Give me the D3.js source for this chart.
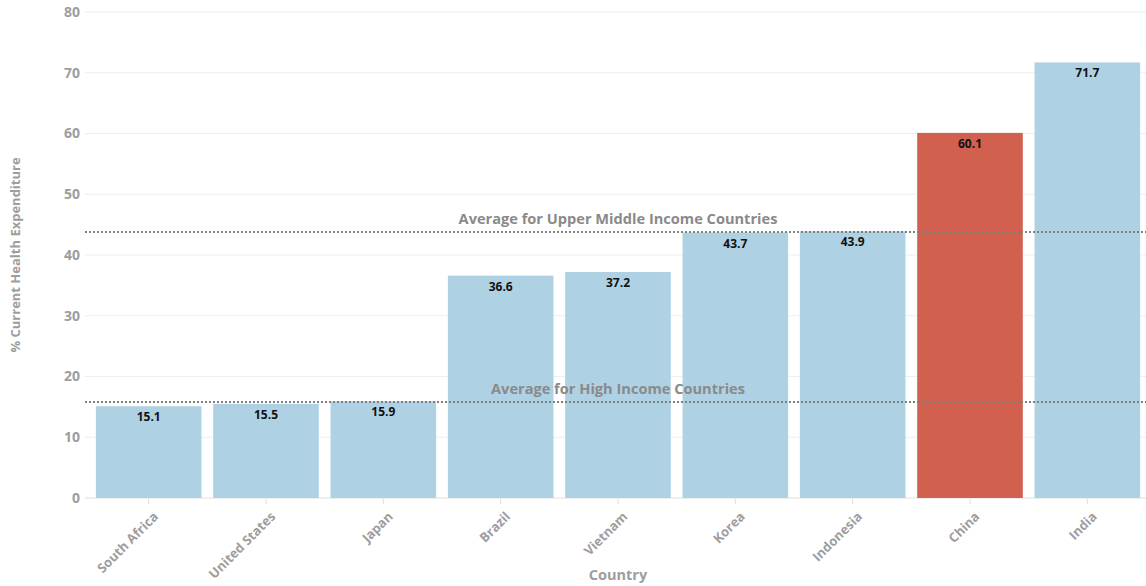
<!DOCTYPE html>
<html><head><meta charset="utf-8">
<script src="https://cdn.jsdelivr.net/npm/d3@7"></script>
<style>body{margin:0;background:#fff;} text{font-family:"Open Sans",sans-serif;}</style>
</head><body>
<svg id="chart" width="1146" height="586"></svg>
<script>
const countries = ["South Africa","United States","Japan","Brazil","Vietnam","Korea","Indonesia","China","India"];
const values = [15.1,15.5,15.9,36.6,37.2,43.7,43.9,60.1,71.7];
const highlight = ["China"];
const yTicks = [0,10,20,30,40,50,60,70,80];
const refLines = [
  {label:"Average for Upper Middle Income Countries", value:43.8},
  {label:"Average for High Income Countries", value:15.8}
];

const svg = d3.select("#chart");
const y = d3.scaleLinear().domain([0,80]).range([498,12]);
const x = d3.scaleBand().domain(countries).range([90,1146]).paddingInner(0.1).paddingOuter(0.05);
const gridX0 = 85, gridX1 = 1146;

// grid
svg.append("g").selectAll("line").data(yTicks).join("line")
  .attr("x1",gridX0).attr("x2",gridX1)
  .attr("y1",d=>y(d)).attr("y2",d=>y(d))
  .attr("stroke",d=>d===0?"#e0e0e0":"#eeeeee").attr("stroke-width",1.2);

// y axis labels
const yAxis = d3.axisLeft(y).tickValues(yTicks).tickSize(0).tickPadding(6);
const gy = svg.append("g").attr("transform","translate(86,0)").call(yAxis);
gy.select(".domain").remove();
gy.selectAll("text").attr("fill","#9d9d9d").style("font-size","14px").style("font-weight","700").style("font-family","Open Sans");

// bars
svg.append("g").selectAll("rect").data(countries).join("rect")
  .attr("x",d=>x(d)).attr("width",x.bandwidth())
  .attr("y",(d,i)=>y(values[i])).attr("height",(d,i)=>y(0)-y(values[i]))
  .attr("fill",d=>highlight.includes(d)?"#d1604f":"#afd1e4");

// value labels
svg.append("g").selectAll("text").data(countries).join("text")
  .attr("x",d=>x(d)+x.bandwidth()/2).attr("y",(d,i)=>y(values[i])+15)
  .attr("text-anchor","middle").attr("fill","#111")
  .style("font-size","12px").style("font-weight","700")
  .text((d,i)=>values[i].toFixed(1));

// x axis
const xAxis = d3.axisBottom(x).tickSize(5).tickPadding(4);
const gx = svg.append("g").attr("transform","translate(0,499)").call(xAxis);
gx.select(".domain").remove();
gx.selectAll(".tick line").attr("stroke","#dddddd");
gx.selectAll("text").attr("fill","#9d9d9d").style("font-size","13px").style("font-weight","700")
  .attr("text-anchor","end").attr("dx","0").attr("dy","0")
  .attr("transform","translate(4,12) rotate(-45)");

// reference lines
const rg = svg.append("g");
rg.selectAll("line").data(refLines).join("line")
  .attr("x1",gridX0).attr("x2",gridX1)
  .attr("y1",d=>y(d.value)).attr("y2",d=>y(d.value))
  .attr("stroke","#7f7f7f").attr("stroke-width",2).attr("stroke-dasharray","2,2");
rg.selectAll("text").data(refLines).join("text")
  .attr("x",618).attr("y",d=>y(d.value)-8)
  .attr("text-anchor","middle").attr("fill","#8a8a8a")
  .style("font-size","14.6px").style("font-weight","700")
  .text(d=>d.label);

// axis titles
svg.append("text").attr("transform","translate(20,255) rotate(-90)")
  .attr("text-anchor","middle").attr("fill","#9d9d9d")
  .style("font-size","13px").style("font-weight","700")
  .text("% Current Health Expenditure");
svg.append("text").attr("x",618).attr("y",580)
  .attr("text-anchor","middle").attr("fill","#9d9d9d")
  .style("font-size","14.5px").style("font-weight","700")
  .text("Country");
</script>
</body></html>
